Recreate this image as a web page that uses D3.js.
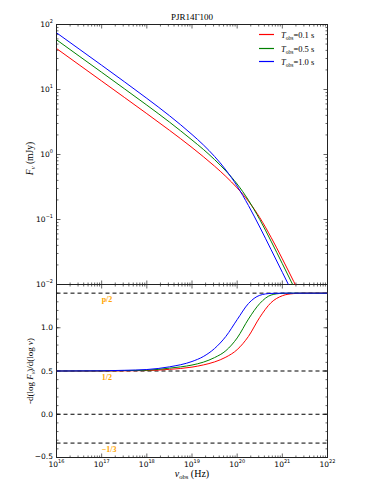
<!DOCTYPE html>
<html>
<head>
<meta charset="utf-8">
<script src="https://cdn.jsdelivr.net/npm/d3@7"></script>
<style>
  body { margin: 0; background: #fff; }
  svg { display: block; }
</style>
</head>
<body>
<div id="chart"></div>
<script>
const width = 374;
const height = 498;
const left = 56.5, right = 327.5;
const topY = 24.5, midY = 284.5, bottomY = 457.5;

// log10 of observed frequency (Hz)
const logNu = [16, 16.5, 17, 17.5, 18, 18.5, 19, 19.25, 19.5, 19.75, 20, 20.25, 20.5, 20.75, 21, 21.25, 21.5];

// flux density F_nu (mJy)
const fluxT01 = [42.7, 24.0, 13.5, 7.58, 4.25, 2.36, 1.28, 0.927, 0.661, 0.459, 0.306, 0.191, 0.107, 0.0533, 0.0248, 0.0112, 0.0050];
const fluxT05 = [58.2, 32.7, 18.4, 10.3, 5.75, 3.16, 1.67, 1.20, 0.834, 0.558, 0.351, 0.198, 0.100, 0.0465, 0.0209, 0.00933, 0.00417];
const fluxT10 = [74.6, 42.0, 23.6, 13.2, 7.31, 3.96, 2.03, 1.41, 0.933, 0.578, 0.326, 0.164, 0.0766, 0.0345, 0.0154, 0.00689, 0.00308];

// spectral index -dlogF/dlognu
const logNuIdx = [16, 17, 17.5, 18, 18.5, 19, 19.25, 19.5, 19.75, 20, 20.25, 20.5, 20.75, 21, 21.25, 21.5, 22];
const idxT01 = [0.5, 0.5, 0.502, 0.505, 0.519, 0.545, 0.57, 0.605, 0.66, 0.747, 0.9, 1.12, 1.29, 1.37, 1.395, 1.4, 1.4];
const idxT05 = [0.5, 0.501, 0.505, 0.509, 0.533, 0.569, 0.602, 0.655, 0.735, 0.882, 1.1, 1.28, 1.378, 1.398, 1.4, 1.4, 1.4];
const idxT10 = [0.5, 0.502, 0.508, 0.517, 0.548, 0.61, 0.667, 0.76, 0.9, 1.094, 1.28, 1.375, 1.397, 1.4, 1.4, 1.4, 1.4];

const seriesLabels = ['0.1', '0.5', '1.0'];
const seriesColors = ['#ff0000', '#008000', '#0000ff'];

const refLines = [1.4, 0.5, 0, -1/3];
const refLabels = [{v: 1.4, t: 'p/2'}, {v: 0.5, t: '1/2'}, {v: -1/3, t: '\u22121/3'}];

const xExps = [16, 17, 18, 19, 20, 21, 22];
const yExps = [2, 1, 0, -1, -2];
const yTicksBottom = [1.0, 0.5, 0.0, -0.5];

const svg = d3.select('#chart').append('svg')
  .attr('width', width)
  .attr('height', height);

const x = d3.scaleLog().domain([1e16, 1e22]).range([left, right]);
const yTop = d3.scaleLog().domain([1e-2, 1e2]).range([midY, topY]);
const yBot = d3.scaleLinear().domain([-0.5, 1.5]).range([bottomY, midY]);

const defs = svg.append('defs');
defs.append('clipPath').attr('id', 'clipTop')
  .append('rect').attr('x', left).attr('y', topY).attr('width', right - left).attr('height', midY - topY);
defs.append('clipPath').attr('id', 'clipBot')
  .append('rect').attr('x', left).attr('y', midY).attr('width', right - left).attr('height', bottomY - midY);

// minor and major x ticks
const xMinor = [];
for (let e = 16; e < 22; e++) for (let m = 2; m <= 9; m++) xMinor.push(m * Math.pow(10, e));
const xMajor = xExps.map(e => Math.pow(10, e));

function xTicks(yPos, dir) {
  const g = svg.append('g').attr('stroke', '#000').attr('stroke-width', 0.6);
  g.selectAll('.mj').data(xMajor).join('line')
    .attr('x1', d => x(d)).attr('x2', d => x(d))
    .attr('y1', yPos).attr('y2', yPos + dir * 4);
  g.selectAll('.mn').data(xMinor).join('line')
    .attr('x1', d => x(d)).attr('x2', d => x(d))
    .attr('y1', yPos).attr('y2', yPos + dir * 2);
}
xTicks(topY, 1);
xTicks(midY, -1);
xTicks(midY, 1);
xTicks(bottomY, -1);

// top y ticks
const yMinor = [];
for (let e = -2; e < 2; e++) for (let m = 2; m <= 9; m++) yMinor.push(m * Math.pow(10, e));
const yMajor = yExps.map(e => Math.pow(10, e));
[[left, 1], [right, -1]].forEach(([xp, dir]) => {
  const g = svg.append('g').attr('stroke', '#000').attr('stroke-width', 0.6);
  g.selectAll('.mj').data(yMajor).join('line')
    .attr('x1', xp).attr('x2', xp + dir * 4)
    .attr('y1', d => yTop(d)).attr('y2', d => yTop(d));
  g.selectAll('.mn').data(yMinor).join('line')
    .attr('x1', xp).attr('x2', xp + dir * 2)
    .attr('y1', d => yTop(d)).attr('y2', d => yTop(d));
});

// bottom y ticks
const yBotMinor = d3.range(-0.5, 1.5001, 0.1);
[[left, 1], [right, -1]].forEach(([xp, dir]) => {
  const g = svg.append('g').attr('stroke', '#000').attr('stroke-width', 0.6);
  g.selectAll('.mj').data([-0.5, 0, 0.5, 1.0, 1.5]).join('line')
    .attr('x1', xp).attr('x2', xp + dir * 4)
    .attr('y1', d => yBot(d)).attr('y2', d => yBot(d));
  g.selectAll('.mn').data(yBotMinor).join('line')
    .attr('x1', xp).attr('x2', xp + dir * 2)
    .attr('y1', d => yBot(d)).attr('y2', d => yBot(d));
});

// frames
svg.append('rect').attr('x', left).attr('y', topY).attr('width', right - left).attr('height', midY - topY)
  .attr('fill', 'none').attr('stroke', '#222').attr('stroke-width', 1);
svg.append('rect').attr('x', left).attr('y', midY).attr('width', right - left).attr('height', bottomY - midY)
  .attr('fill', 'none').attr('stroke', '#222').attr('stroke-width', 1);

// curves top
const fluxSeries = [fluxT01, fluxT05, fluxT10];
const lineTop = d3.line()
  .x(d => x(Math.pow(10, d[0])))
  .y(d => yTop(d[1]))
  .curve(d3.curveMonotoneX);
const gTop = svg.append('g').attr('clip-path', 'url(#clipTop)');
fluxSeries.forEach((s, i) => {
  gTop.append('path')
    .datum(logNu.map((n, j) => [n, s[j]]))
    .attr('d', lineTop)
    .attr('fill', 'none')
    .attr('stroke', seriesColors[i])
    .attr('stroke-width', 1);
});

// bottom panel
const gBot = svg.append('g').attr('clip-path', 'url(#clipBot)');
gBot.selectAll('.ref').data(refLines).join('line')
  .attr('x1', left).attr('x2', right)
  .attr('y1', d => yBot(d)).attr('y2', d => yBot(d))
  .attr('stroke', '#000').attr('stroke-width', 1)
  .attr('stroke-dasharray', '4,3');

const idxSeries = [idxT01, idxT05, idxT10];
const lineBot = d3.line()
  .x(d => x(Math.pow(10, d[0])))
  .y(d => yBot(d[1]))
  .curve(d3.curveMonotoneX);
idxSeries.forEach((s, i) => {
  gBot.append('path')
    .datum(logNuIdx.map((n, j) => [n, s[j]]))
    .attr('d', lineBot)
    .attr('fill', 'none')
    .attr('stroke', seriesColors[i])
    .attr('stroke-width', 1);
});

svg.selectAll('.reflab').data(refLabels).join('text')
  .attr('x', x(1e17))
  .attr('y', d => yBot(d.v) + 8.5)
  .attr('fill', '#ffa500')
  .attr('font-family', 'Liberation Serif, serif')
  .attr('font-weight', 'bold')
  .attr('font-size', 8)
  .text(d => d.t);

// tick labels
const sans = 'DejaVu Sans, sans-serif';
const xl = svg.selectAll('.xl').data(xExps).join('text')
  .attr('x', d => x(Math.pow(10, d)))
  .attr('y', bottomY + 9.5)
  .attr('text-anchor', 'middle')
  .attr('font-family', sans)
  .attr('font-size', 7.5)
  .attr('fill', '#000');
xl.append('tspan').text('10');
xl.append('tspan').attr('dy', -4).attr('font-size', 5).text(d => d);

const yl = svg.selectAll('.yl').data(yExps).join('text')
  .attr('x', left - 3.5)
  .attr('y', d => yTop(Math.pow(10, d)) + 2.5)
  .attr('text-anchor', 'end')
  .attr('font-family', sans)
  .attr('font-size', 7.5)
  .attr('fill', '#000');
yl.append('tspan').text('10');
yl.append('tspan').attr('dy', -4).attr('font-size', 5).text(d => d < 0 ? '\u2212' + (-d) : d);

svg.selectAll('.ybl').data(yTicksBottom).join('text')
  .attr('x', left - 3.5)
  .attr('y', d => yBot(d) + (d === -0.5 ? 1.5 : 2.5))
  .attr('text-anchor', 'end')
  .attr('font-family', sans)
  .attr('font-size', 7.5)
  .attr('fill', '#000')
  .text(d => d3.format('.1f')(d).replace('-', '\u2212'));

// title
const serif = 'Liberation Serif, DejaVu Serif, serif';
svg.append('text')
  .attr('x', (left + right) / 2).attr('y', 20)
  .attr('text-anchor', 'middle')
  .attr('font-family', serif).attr('font-size', 9)
  .text('PJR14\u0393100');

// axis labels
const yl1 = svg.append('text')
  .attr('transform', `translate(33,${(topY + midY) / 2 + 4}) rotate(-90)`)
  .attr('text-anchor', 'middle')
  .attr('font-family', serif).attr('font-size', 9.5);
yl1.append('tspan').attr('font-style', 'italic').text('F');
yl1.append('tspan').attr('font-style', 'italic').attr('font-size', 6.5).attr('dy', 2).text('\u03bd');
yl1.append('tspan').attr('dy', -2).text(' (mJy)');

const yl2 = svg.append('text')
  .attr('transform', `translate(33,${(midY + bottomY) / 2}) rotate(-90)`)
  .attr('text-anchor', 'middle')
  .attr('font-family', serif).attr('font-size', 9);
yl2.append('tspan').text('-d(log ');
yl2.append('tspan').attr('font-style', 'italic').text('F');
yl2.append('tspan').attr('font-style', 'italic').attr('font-size', 6).attr('dy', 2).text('\u03bd');
yl2.append('tspan').attr('dy', -2).text(')/d(log ');
yl2.append('tspan').attr('font-style', 'italic').text('\u03bd');
yl2.append('tspan').text(')');

const xlab = svg.append('text')
  .attr('x', (left + right) / 2).attr('y', 477)
  .attr('text-anchor', 'middle')
  .attr('font-family', serif).attr('font-size', 10);
xlab.append('tspan').attr('font-style', 'italic').text('\u03bd');
xlab.append('tspan').attr('font-size', 6.5).attr('dy', 2).text('obs');
xlab.append('tspan').attr('dy', -2).text(' (Hz)');

// legend
const legY = [34.5, 48.5, 61.5];
seriesLabels.forEach((lab, i) => {
  svg.append('line')
    .attr('x1', 259).attr('x2', 274)
    .attr('y1', legY[i]).attr('y2', legY[i])
    .attr('stroke', seriesColors[i]).attr('stroke-width', 1.2);
  const t = svg.append('text')
    .attr('x', 281).attr('y', legY[i] + 3)
    .attr('font-family', serif).attr('font-size', 8.5);
  t.append('tspan').attr('font-style', 'italic').text('T');
  t.append('tspan').attr('font-size', 5.5).attr('dy', 2).text('obs');
  t.append('tspan').attr('dy', -2).text('=' + lab + ' s');
});
</script>
</body>
</html>
